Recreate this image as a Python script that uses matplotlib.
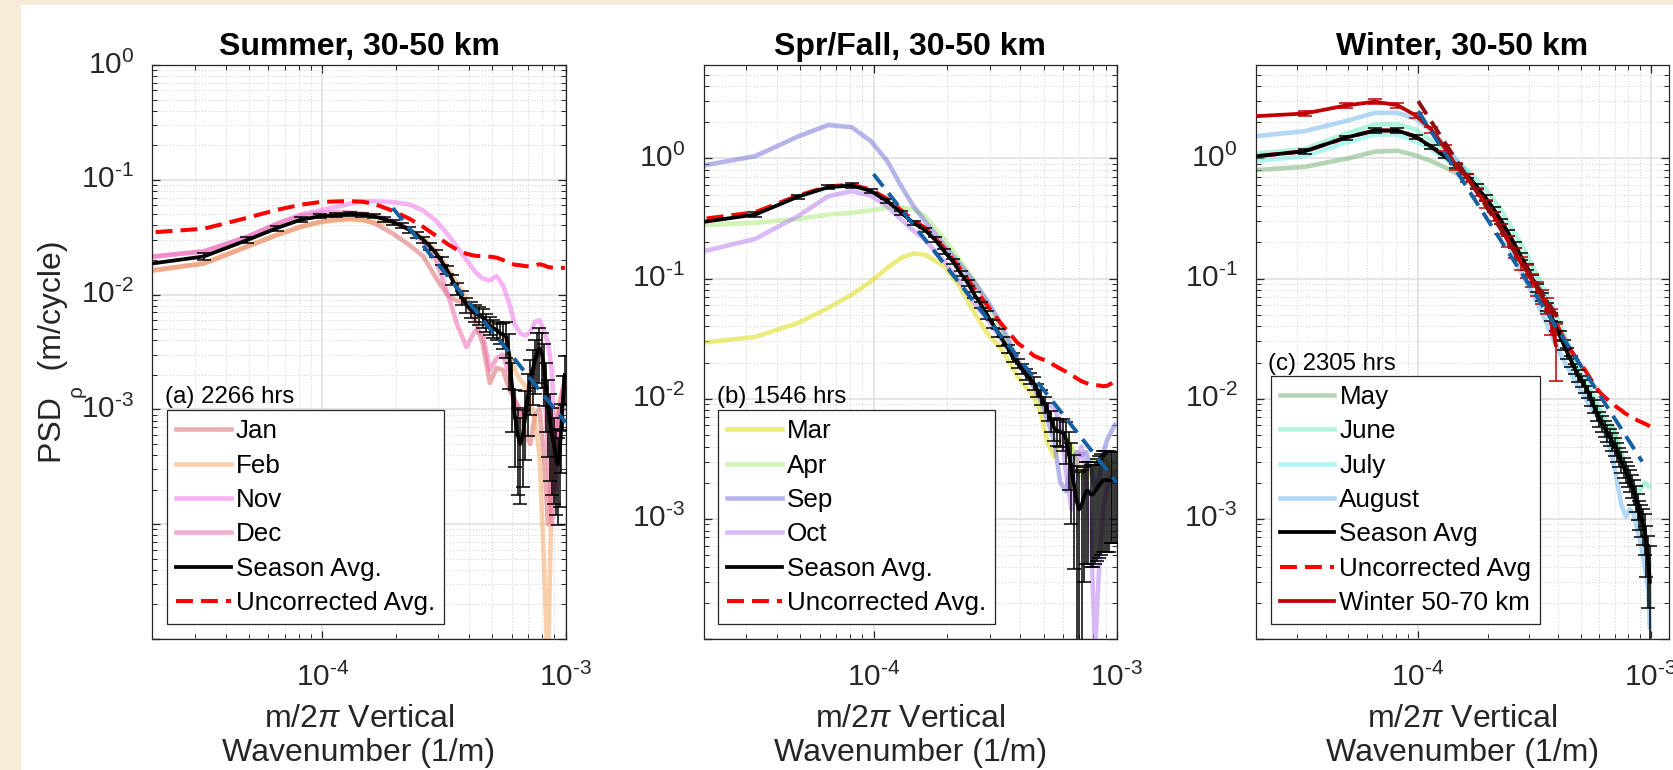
import numpy as np
import matplotlib
matplotlib.use("Agg")
import matplotlib.pyplot as plt
from matplotlib.lines import Line2D
from matplotlib.patches import Rectangle
from matplotlib.ticker import LogLocator, FixedLocator, FuncFormatter, NullFormatter

plt.rcParams['font.family'] = ['Liberation Sans', 'DejaVu Sans']
plt.rcParams['mathtext.fontset'] = 'custom'
plt.rcParams['mathtext.rm'] = 'Liberation Sans'
plt.rcParams['mathtext.it'] = 'Liberation Sans:italic'
plt.rcParams['mathtext.bf'] = 'Liberation Sans:bold'

# ---------------- wavenumber grids (1/m) ----------------
k_full = [1.63e-5, 3.26e-5, 4.88e-5, 6.51e-5, 8.14e-5, 9.77e-5, 1.14e-4, 1.30e-4, 1.46e-4, 1.63e-4,
          1.79e-4, 1.95e-4, 2.12e-4, 2.28e-4, 2.44e-4, 2.60e-4, 2.77e-4, 2.93e-4, 3.09e-4, 3.26e-4,
          3.42e-4, 3.58e-4, 3.74e-4, 3.91e-4, 4.07e-4, 4.23e-4, 4.39e-4, 4.56e-4, 4.72e-4, 4.88e-4,
          5.05e-4, 5.21e-4, 5.37e-4, 5.53e-4, 5.70e-4, 5.86e-4, 6.02e-4, 6.18e-4, 6.35e-4, 6.51e-4,
          6.67e-4, 6.84e-4, 7.00e-4, 7.16e-4, 7.32e-4, 7.49e-4, 7.65e-4, 7.81e-4, 7.98e-4, 8.14e-4,
          8.30e-4, 8.46e-4, 8.63e-4, 8.79e-4, 8.95e-4, 9.11e-4, 9.28e-4, 9.44e-4, 9.60e-4, 9.77e-4,
          9.93e-4]
k_month = [1.63e-5, 3.26e-5, 4.88e-5, 6.51e-5, 8.14e-5, 9.77e-5, 1.14e-4, 1.30e-4, 1.46e-4, 1.63e-4,
           1.95e-4, 2.28e-4, 2.60e-4, 2.93e-4, 3.26e-4, 3.58e-4, 3.91e-4, 4.23e-4, 4.56e-4, 4.88e-4,
           5.21e-4, 5.53e-4, 5.86e-4, 6.18e-4, 6.51e-4, 6.84e-4, 7.16e-4, 7.49e-4, 7.81e-4, 8.14e-4,
           8.46e-4, 8.79e-4, 9.11e-4, 9.44e-4, 9.77e-4, 9.93e-4]

# ---------------- (a) Summer ----------------
summer_jan = [0.0155, 0.0186, 0.026, 0.033, 0.039, 0.043, 0.045, 0.046, 0.045, 0.042,
              0.034, 0.027, 0.0215, 0.014, 0.0100, 0.0088, 0.0085, 0.0060, 0.0038, 0.0017,
              0.0023, 0.0022, 0.0015, 0.0012, 0.0010, 0.0006, 0.0005, 0.0009, 0.0010, 0.0004,
              0.0001, 0.0003, 0.0007, 0.0010, 0.0012, 0.0012]
summer_feb = [0.0150, 0.0188, 0.0263, 0.0332, 0.0388, 0.0426, 0.0443, 0.0449, 0.0443, 0.0426,
              0.042, 0.037, 0.031, 0.024, 0.0175, 0.0125, 0.0092, 0.0075, 0.0064, 0.0056,
              0.0050, 0.0042, 0.0030, 0.0022, 0.0018, 0.0016, 0.0012, 0.0008, 0.0004, 0.00005,
              0.000005, 0.0003, 0.0008, 0.0012, 0.0015, 0.0016]
summer_nov = [0.0205, 0.0238, 0.0317, 0.0414, 0.050, 0.054, 0.058, 0.062, 0.065, 0.065,
              0.064, 0.061, 0.054, 0.044, 0.034, 0.026, 0.0201, 0.016, 0.0138, 0.0133,
              0.0145, 0.0120, 0.0085, 0.0055, 0.0046, 0.0044, 0.0047, 0.0058, 0.0060, 0.0048,
              0.0038, 0.0022, 0.0002, 0.0008, 0.0015, 0.0017]
summer_dec = [0.0205, 0.0238, 0.0317, 0.0414, 0.0486, 0.0513, 0.052, 0.052, 0.051, 0.049,
              0.044, 0.037, 0.029, 0.020, 0.0105, 0.0055, 0.0035, 0.0048, 0.0046, 0.0022,
              0.0028, 0.0030, 0.0020, 0.0012, 0.0009, 0.0010, 0.0016, 0.0028, 0.0035, 0.0022,
              0.0004, 0.0001, 0.0004, 0.0010, 0.0016, 0.0018]
summer_uncorr = [0.0338, 0.0375, 0.0465, 0.0548, 0.0606, 0.064, 0.0648, 0.0652, 0.0644, 0.0618,
                 0.0537, 0.0458, 0.0388, 0.0326, 0.0277, 0.0246, 0.0227, 0.0218, 0.0216, 0.0214,
                 0.0210, 0.0200, 0.0188, 0.0182, 0.0180, 0.0177, 0.0176, 0.0180, 0.0184, 0.0180,
                 0.0174, 0.0172, 0.0171, 0.0171, 0.0171, 0.0171]
summer_avg = [0.0176, 0.0215, 0.0297, 0.038, 0.0449, 0.048, 0.049, 0.0503, 0.0496, 0.048,
              0.0455, 0.0429, 0.0398, 0.0367, 0.0332, 0.0301, 0.0263, 0.023, 0.0195, 0.0163,
              0.0135, 0.0112, 0.0094, 0.0082, 0.0074, 0.0069, 0.0066, 0.0063, 0.0058, 0.0054,
              0.0051, 0.0049, 0.0046, 0.0045, 0.0043, 0.0030, 0.0016, 0.0009, 0.0006, 0.0005,
              0.0006, 0.0009, 0.0013, 0.0018, 0.0022, 0.0027, 0.0031, 0.0034, 0.0031, 0.0024,
              0.0016, 0.0011, 0.0008, 0.0006, 0.0005, 0.0004, 0.00033, 0.0004, 0.0007, 0.0013,
              0.0020]
summer_relerr = [0.07, 0.07, 0.06, 0.05, 0.05, 0.04, 0.04, 0.04, 0.04, 0.04,
                 0.05, 0.05, 0.05, 0.06, 0.06, 0.06, 0.07, 0.07, 0.08, 0.08,
                 0.10, 0.12, 0.14, 0.15, 0.16, 0.17, 0.18, 0.18, 0.18, 0.18,
                 0.18, 0.18, 0.20, 0.25, 0.35, 0.50, 0.60, 0.65, 0.70, 0.70,
                 0.65, 0.60, 0.55, 0.50, 0.50, 0.50, 0.50, 0.50, 0.50, 0.55,
                 0.60, 0.65, 0.70, 0.70, 0.70, 0.70, 0.70, 0.65, 0.60, 0.50,
                 0.45]
summer_fit_k = [1.95e-4, 1.0e-3]
summer_fit_psd = [0.0567, 7.7e-4]

# ---------------- (b) Spring / Fall ----------------
spring_mar = [0.0281, 0.0327, 0.0427, 0.057, 0.0736, 0.095, 0.123, 0.149, 0.162, 0.158,
              0.127, 0.0836, 0.0518, 0.035, 0.028, 0.021, 0.0153, 0.0125, 0.0105, 0.0075,
              0.0042, 0.0033, 0.0045, 0.0048, 0.0040, 0.0030, 0.0025, 0.0022, 0.0024, 0.0028,
              0.0032, 0.0033, 0.0030, 0.0026, 0.0022, 0.0021]
spring_apr = [0.273, 0.291, 0.314, 0.341, 0.353, 0.371, 0.388, 0.393, 0.376, 0.33,
              0.215, 0.14, 0.095, 0.062, 0.042, 0.029, 0.021, 0.016, 0.0125, 0.0098,
              0.0074, 0.0060, 0.0055, 0.0050, 0.0038, 0.0026, 0.0022, 0.0025, 0.0030, 0.0032,
              0.0030, 0.0027, 0.0026, 0.0028, 0.0030, 0.0030]
spring_sep = [0.812, 1.045, 1.52, 1.90, 1.82, 1.39, 0.95, 0.588, 0.40, 0.30,
              0.19, 0.13, 0.093, 0.066, 0.046, 0.031, 0.021, 0.016, 0.0125, 0.0095,
              0.0065, 0.0045, 0.0020, 0.0017, 0.0030, 0.0036, 0.0034, 0.0036, 0.0026, 0.0018,
              0.0022, 0.0035, 0.0045, 0.0052, 0.0060, 0.0063]
spring_oct = [0.153, 0.214, 0.33, 0.485, 0.535, 0.49, 0.40, 0.31, 0.25, 0.21,
              0.14, 0.092, 0.062, 0.046, 0.034, 0.026, 0.020, 0.016, 0.013, 0.010,
              0.0088, 0.0085, 0.0060, 0.0025, 0.0012, 0.0028, 0.0040, 0.0022, 0.0008, 0.00008,
              0.0004, 0.0012, 0.0018, 0.0022, 0.0025, 0.0026]
spring_uncorr = [0.298, 0.357, 0.49, 0.585, 0.605, 0.55, 0.46, 0.37, 0.305, 0.265,
                 0.18, 0.12, 0.082, 0.060, 0.045, 0.036, 0.0291, 0.026, 0.0228, 0.0215,
                 0.0205, 0.019, 0.0178, 0.0168, 0.0158, 0.0148, 0.014, 0.0135, 0.0131, 0.013,
                 0.0129, 0.0127, 0.0128, 0.0133, 0.014, 0.0141]
spring_avg = [0.28, 0.341, 0.48, 0.577, 0.596, 0.535, 0.441, 0.353, 0.291, 0.253,
              0.211, 0.169, 0.139, 0.111, 0.092, 0.0736, 0.0607, 0.050, 0.0419, 0.0353,
              0.030, 0.026, 0.0221, 0.0198, 0.0178, 0.016, 0.0148, 0.0135, 0.0118, 0.0103,
              0.009, 0.0079, 0.0066, 0.0057, 0.0054, 0.0053, 0.0052, 0.0046, 0.0035, 0.0026,
              0.0019, 0.0014, 0.0012, 0.0013, 0.0015, 0.0017, 0.0017, 0.0016, 0.0016, 0.0017,
              0.0018, 0.0019, 0.0020, 0.0021, 0.0021, 0.0021, 0.0021, 0.0021, 0.0021, 0.0021,
              0.0021]
spring_relerr = [0.05, 0.05, 0.04, 0.04, 0.04, 0.04, 0.04, 0.04, 0.04, 0.04,
                 0.05, 0.05, 0.05, 0.05, 0.06, 0.06, 0.06, 0.07, 0.07, 0.07,
                 0.08, 0.08, 0.09, 0.09, 0.10, 0.10, 0.11, 0.12, 0.13, 0.14,
                 0.15, 0.17, 0.20, 0.22, 0.25, 0.25, 0.30, 0.38, 0.50, 0.65,
                 0.80, 0.95, 1.05, 0.95, 0.80, 0.75, 0.75, 0.75, 0.75, 0.75,
                 0.75, 0.75, 0.75, 0.75, 0.75, 0.75, 0.75, 0.70, 0.70, 0.70,
                 0.70]
spring_fit_k = [1.0e-4, 1.0e-3]
spring_fit_psd = [0.74, 2.0e-3]

# ---------------- (c) Winter ----------------
winter_may = [0.78, 0.853, 0.993, 1.14, 1.16, 1.06, 0.95, 0.847, 0.75, 0.668,
              0.47, 0.30, 0.19, 0.12, 0.082, 0.057, 0.040, 0.029, 0.021, 0.016,
              0.0130, 0.0105, 0.0085, 0.0068, 0.0058, 0.0060, 0.0045, 0.0034, 0.0027, 0.0022,
              0.0018, 0.0014, 0.0011, 0.0008, 0.0004, 0.00018]
winter_june = [1.06, 1.2, 1.61, 1.92, 1.93, 1.74, 1.39, 1.15, 0.95, 0.80,
               0.56, 0.37, 0.24, 0.16, 0.105, 0.072, 0.050, 0.035, 0.025, 0.018,
               0.0145, 0.0115, 0.0095, 0.0075, 0.0062, 0.0058, 0.0045, 0.0035, 0.0028, 0.0023,
               0.0019, 0.0016, 0.0018, 0.0020, 0.0019, 0.0018]
winter_july = [0.913, 1.045, 1.35, 1.58, 1.58, 1.39, 1.19, 1.0, 0.83, 0.69,
               0.46, 0.30, 0.195, 0.127, 0.086, 0.060, 0.041, 0.029, 0.021, 0.016,
               0.0128, 0.010, 0.0078, 0.0063, 0.0053, 0.0044, 0.0036, 0.0030, 0.0025, 0.0021,
               0.0016, 0.0012, 0.0009, 0.0007, 0.0005, 0.0004]
winter_aug = [1.47, 1.69, 2.05, 2.40, 2.40, 2.14, 1.69, 1.31, 0.98, 0.75,
              0.45, 0.27, 0.145, 0.093, 0.062, 0.042, 0.028, 0.021, 0.016, 0.0127,
              0.0105, 0.0085, 0.0072, 0.0058, 0.0046, 0.0033, 0.0021, 0.0013, 0.00105, 0.0012,
              0.0011, 0.0008, 0.0006, 0.0004, 0.00025, 0.00012]
winter_uncorr = [1.0, 1.15, 1.49, 1.71, 1.71, 1.52, 1.25, 1.045, 0.863, 0.713,
                 0.47, 0.30, 0.192, 0.126, 0.085, 0.06, 0.043, 0.032, 0.025, 0.0205,
                 0.0175, 0.0145, 0.0122, 0.0108, 0.0099, 0.0092, 0.0085, 0.0080, 0.0075, 0.0072,
                 0.0069, 0.0066, 0.0064, 0.0062, 0.0060, 0.0059]
winter_avg = [1.0, 1.15, 1.49, 1.71, 1.71, 1.52, 1.25, 1.045, 0.863, 0.713,
              0.581, 0.47, 0.376, 0.30, 0.24, 0.192, 0.153, 0.125, 0.101, 0.0836,
              0.0703, 0.058, 0.048, 0.040, 0.0335, 0.0282, 0.024, 0.0205, 0.0178, 0.0155,
              0.014, 0.0128, 0.0115, 0.0100, 0.0087, 0.0076, 0.0068, 0.0062, 0.0057, 0.0052,
              0.0048, 0.0044, 0.0040, 0.0036, 0.0033, 0.0030, 0.0027, 0.0025, 0.0023, 0.0021,
              0.0019, 0.0017, 0.0015, 0.0013, 0.0011, 0.0010, 0.0009, 0.0008, 0.0006, 0.00045,
              0.0003]
winter_relerr = [0.05, 0.05, 0.04, 0.04, 0.04, 0.04, 0.04, 0.04, 0.04, 0.04,
                 0.05, 0.05, 0.05, 0.05, 0.06, 0.06, 0.06, 0.06, 0.07, 0.07,
                 0.07, 0.08, 0.08, 0.08, 0.09, 0.09, 0.10, 0.10, 0.10, 0.11,
                 0.11, 0.12, 0.12, 0.13, 0.13, 0.14, 0.14, 0.15, 0.15, 0.16,
                 0.16, 0.17, 0.17, 0.18, 0.18, 0.19, 0.19, 0.20, 0.20, 0.21,
                 0.22, 0.23, 0.24, 0.25, 0.27, 0.30, 0.33, 0.37, 0.45, 0.60,
                 1.00]
winter_deep = [2.2, 2.37, 2.76, 2.97, 2.78, 2.28, 1.74, 1.23, 0.86, 0.69,
               0.53, 0.42, 0.33, 0.26, 0.205, 0.165, 0.135, 0.115, 0.097, 0.083,
               0.071, 0.06, 0.045, 0.028]
winter_deep_relerr = [0.05, 0.05, 0.05, 0.05, 0.05, 0.05, 0.06, 0.06, 0.07, 0.07,
                      0.08, 0.08, 0.09, 0.09, 0.10, 0.10, 0.12, 0.12, 0.13, 0.13,
                      0.14, 0.15, 0.25, 0.50]
winter_fit_k = [1.0e-4, 9.2e-4]
winter_fit_psd = [2.48, 3.0e-3]
deep_fit_k = [1.0e-4, 4.0e-4]
deep_fit_psd = [3.0, 0.047]

titles = ["Summer, 30-50 km", "Spr/Fall, 30-50 km", "Winter, 30-50 km"]
hours = ["(a) 2266 hrs", "(b) 1546 hrs", "(c) 2305 hrs"]

# ---------------- figure ----------------
W, H = 1673, 770
fig = plt.figure(figsize=(W / 100, H / 100), dpi=100)
fig.patch.set_facecolor('#F5ECDA')
fig.add_artist(Rectangle((21 / W, 0), 1 - 21 / W, (H - 5) / H, transform=fig.transFigure,
                         facecolor='white', edgecolor='none', zorder=-5))

ax_w = 413.3 / W
ax_h = 574 / H
ax_b = (H - 639) / H
lefts = [152.3 / W, 703.5 / W, 1255.7 / W]
axes = [fig.add_axes([l, ax_b, ax_w, ax_h]) for l in lefts]

DARK = '#262626'
TICK_FS = 21.5
LABEL_FS = 23
MONTH_LW = 3.3
AVG_LW = 2.7
RED_DASH = (4.2, 2.0)
BLUE = '#1560A0'


def pow_label(v):
    # MATLAB-style exponent written with a short hyphen
    e = int(round(np.log10(v)))
    return r'$\mathdefault{10^{\text{%d}}}$' % e


def fmt_x(v, pos):
    return pow_label(v)


def fmt_y(v, pos):
    if v < 5e-4:
        return ''
    return pow_label(v)


def style(ax, xlim, ylim, yticks):
    ax.set_xscale('log')
    ax.set_yscale('log')
    ax.set_xlim(*xlim)
    ax.set_ylim(*ylim)
    ax.xaxis.set_major_locator(FixedLocator([1e-4, 1e-3]))
    ax.xaxis.set_major_formatter(FuncFormatter(fmt_x))
    ax.xaxis.set_minor_locator(LogLocator(base=10, subs=[2, 3, 4, 5, 6, 7, 8, 9], numticks=50))
    ax.xaxis.set_minor_formatter(NullFormatter())
    ax.yaxis.set_major_locator(FixedLocator(yticks))
    ax.yaxis.set_major_formatter(FuncFormatter(fmt_y))
    ax.yaxis.set_minor_locator(LogLocator(base=10, subs=[2, 3, 4, 5, 6, 7, 8, 9], numticks=50))
    ax.yaxis.set_minor_formatter(NullFormatter())
    ax.set_axisbelow(True)
    ax.grid(True, which='major', color='#DEDEDE', lw=1.1, ls='-')
    ax.grid(True, which='minor', color='#CFCFCF', lw=0.7, ls=(0, (1, 2)))
    ax.tick_params(which='both', direction='in', top=True, right=True, colors=DARK,
                   labelcolor=DARK, labelsize=TICK_FS)
    ax.tick_params(which='major', length=6, width=0.9)
    ax.tick_params(which='minor', length=3.5, width=0.7)
    ax.tick_params(axis='x', which='major', pad=17)
    ax.tick_params(axis='y', which='major', pad=13)
    for lab in ax.get_yticklabels():
        lab.set_verticalalignment('center')
    for s in ax.spines.values():
        s.set_color(DARK)
        s.set_linewidth(0.9)
    ax.set_xlabel('m/2$\\pi$ Vertical\nWavenumber (1/m)', fontsize=LABEL_FS, color=DARK,
                  linespacing=1.2)
    ax.xaxis.set_label_coords(0.5, -0.113)


def draw_months(ax, series, colors):
    for y, c in zip(series, colors):
        ax.plot(k_month, y, color=c, lw=MONTH_LW, alpha=0.55, solid_capstyle='butt', zorder=2)


def draw_avg(ax, avg, rel, color='k', z=5):
    avg = np.array(avg)
    err = avg * np.array(rel)
    ax.errorbar(k_full[:len(avg)], avg, yerr=err, color=color, lw=AVG_LW, elinewidth=1.1,
                capsize=5, capthick=1.1, zorder=z)


def make_legend(ax, labels, colors, extra, y0):
    handles = [Line2D([], [], color=c, lw=MONTH_LW, alpha=0.55) for c in colors]
    handles += extra
    leg = ax.legend(handles, labels, loc='lower left', bbox_to_anchor=(0.036, y0),
                    borderaxespad=0, fontsize=18.7, frameon=True, fancybox=False,
                    framealpha=1, edgecolor=DARK, handlelength=2.1, handletextpad=0.2,
                    labelspacing=0.4, borderpad=0.35)
    leg.get_frame().set_linewidth(0.9)
    leg.set_zorder(20)
    return leg


avg_handle = Line2D([], [], color='k', lw=AVG_LW)
unc_handle = Line2D([], [], color='red', lw=2.9, ls='--', dashes=RED_DASH)

# ---- (a)
ax = axes[0]
style(ax, (2e-5, 1e-3), (1e-5, 1.0), [1e-5, 1e-4, 1e-3, 1e-2, 1e-1, 1e0])
cols_a = ['#DB6B6B', '#F5A969', '#F177EB', '#EB6BAB']
draw_months(ax, [summer_jan, summer_feb, summer_nov, summer_dec], cols_a)
ax.plot(k_month, summer_uncorr, color='red', lw=2.9, ls='--', dashes=RED_DASH, zorder=3)
draw_avg(ax, summer_avg, summer_relerr)
ax.plot(summer_fit_k, summer_fit_psd, color=BLUE, lw=2.8, ls='--', dashes=(4, 2.2), zorder=7)
make_legend(ax, ['Jan', 'Feb', 'Nov', 'Dec', 'Season Avg.', 'Uncorrected Avg.'], cols_a,
            [avg_handle, unc_handle], 0.0256)
ax.set_ylabel('PSD   (m/cycle)', fontsize=LABEL_FS, color=DARK)
ax.yaxis.set_label_coords(-0.2045, 0.501)
# subscript rho of the y label, set well below the label baseline as in the original
fig.text(76 / W, 1 - 391 / H, '\u03c1', fontsize=15, rotation=90, color=DARK,
         ha='center', va='center')

# ---- (b)
ax = axes[1]
style(ax, (2e-5, 1e-3), (1e-4, 6.0), [1e-4, 1e-3, 1e-2, 1e-1, 1e0])
cols_b = ['#E1DC14', '#AFEB7D', '#7878D7', '#B982F0']
draw_months(ax, [spring_mar, spring_apr, spring_sep, spring_oct], cols_b)
ax.plot(k_month, spring_uncorr, color='red', lw=2.9, ls='--', dashes=RED_DASH, zorder=3)
draw_avg(ax, spring_avg, spring_relerr)
ax.plot(spring_fit_k, spring_fit_psd, color=BLUE, lw=2.8, ls='--', dashes=(4, 2.2), zorder=7)
make_legend(ax, ['Mar', 'Apr', 'Sep', 'Oct', 'Season Avg.', 'Uncorrected Avg.'], cols_b,
            [avg_handle, unc_handle], 0.0256)

# ---- (c)
ax = axes[2]
style(ax, (2e-5, 1.2e-3), (1e-4, 6.0), [1e-4, 1e-3, 1e-2, 1e-1, 1e0])
cols_c = ['#78B478', '#6EEBC3', '#73F0E6', '#73B9F0']
draw_months(ax, [winter_may, winter_june, winter_july, winter_aug], cols_c)
ax.plot(k_month, winter_uncorr, color='red', lw=2.9, ls='--', dashes=RED_DASH, zorder=3)
draw_avg(ax, winter_avg, winter_relerr)
draw_avg(ax, winter_deep, winter_deep_relerr, color='#C00000', z=6)
ax.plot(deep_fit_k, deep_fit_psd, color='#8E0F0F', lw=2.8, ls='--', dashes=(4, 2.2), zorder=7)
ax.plot(winter_fit_k, winter_fit_psd, color=BLUE, lw=2.8, ls='--', dashes=(4, 2.2), zorder=8)
deep_handle = Line2D([], [], color='#C00000', lw=AVG_LW)
avg_handle_c = Line2D([], [], color='k', lw=AVG_LW)
unc_handle_c = Line2D([], [], color='red', lw=2.9, ls='--', dashes=RED_DASH)
make_legend(ax, ['May', 'June', 'July', 'August', 'Season Avg', 'Uncorrected Avg',
                 'Winter 50-70 km'], cols_c, [avg_handle_c, unc_handle_c, deep_handle], 0.0256)

hour_pos = [(0.031, 0.4217), (0.032, 0.4217), (0.0295, 0.4786)]
for ax, t, h, (hx, hy) in zip(axes, titles, hours, hour_pos):
    ax.set_title(t, fontsize=23, fontweight='bold', pad=7)
    ax.text(hx, hy, h, transform=ax.transAxes, fontsize=17.3, ha='left', va='center',
            color='k', zorder=21)

fig.savefig('out.png', dpi=100, facecolor=fig.get_facecolor())
